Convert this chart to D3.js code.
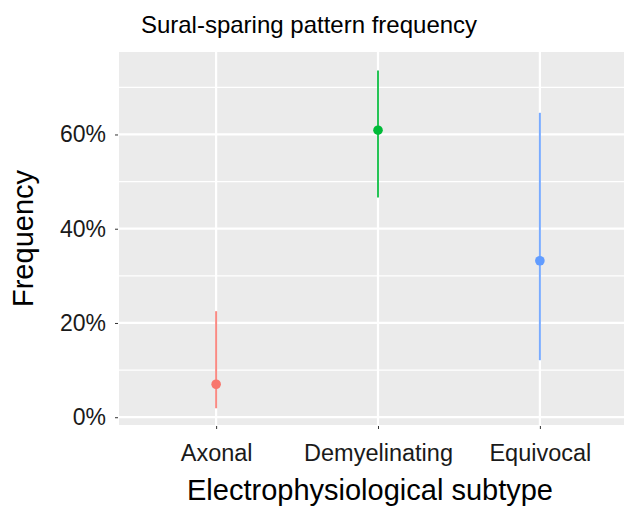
<!DOCTYPE html>
<html><head><meta charset="utf-8">
<script src="https://cdn.jsdelivr.net/npm/d3@7"></script>
<style>body{margin:0;background:#fff}svg{display:block}text{font-family:"Liberation Sans",Arial,Helvetica,sans-serif}</style>
</head><body>
<script>
const categories = ["Axonal", "Demyelinating", "Equivocal"];
const estimate = [0.070, 0.609, 0.332];
const lower = [0.019, 0.466, 0.121];
const upper = [0.225, 0.736, 0.646];
const colors = ["#F8766D", "#00BA38", "#619CFF"];
const yTicks = [0, 0.2, 0.4, 0.6];
const yMinor = [0.1, 0.3, 0.5, 0.7];

const W = 624, H = 512;
const svg = d3.select("body").append("svg").attr("width", W).attr("height", H);
const pL = 119, pR = 637, pT = 52, pB = 425;

const x = d3.scalePoint().domain(categories).range([pL, pR]).padding(0.6);
const y = d3.scaleLinear().domain([-0.0165, 0.775]).range([pB, pT]);

svg.append("rect").attr("x", pL).attr("y", pT).attr("width", pR - pL).attr("height", pB - pT).attr("fill", "#EBEBEB");

const g = svg.append("g");
g.selectAll(".minor").data(yMinor).join("line")
  .attr("x1", pL).attr("x2", pR).attr("y1", d => y(d)).attr("y2", d => y(d))
  .attr("stroke", "#fff").attr("stroke-width", 1.1);
g.selectAll(".major").data(yTicks).join("line")
  .attr("x1", pL).attr("x2", pR).attr("y1", d => y(d)).attr("y2", d => y(d))
  .attr("stroke", "#fff").attr("stroke-width", 2.2);
g.selectAll(".vmajor").data(categories).join("line")
  .attr("x1", d => x(d)).attr("x2", d => x(d)).attr("y1", pT).attr("y2", pB)
  .attr("stroke", "#fff").attr("stroke-width", 2.2);

// error bars
const data = categories.map((c, i) => ({c, est: estimate[i], lo: lower[i], hi: upper[i], col: colors[i]}));
g.selectAll(".ci").data(data).join("line")
  .attr("x1", d => x(d.c)).attr("x2", d => x(d.c))
  .attr("y1", d => y(d.lo)).attr("y2", d => y(d.hi))
  .attr("stroke", d => d.col).attr("stroke-width", 2).attr("stroke-opacity", 0.85);
g.selectAll(".pt").data(data).join("circle")
  .attr("cx", d => x(d.c)).attr("cy", d => y(d.est)).attr("r", 4.8)
  .attr("fill", d => d.col);

// axes
const yAxis = d3.axisLeft(y).tickValues(yTicks).tickFormat(d3.format(".0%")).tickSize(3).tickPadding(9);
const ya = svg.append("g").attr("transform", `translate(${pL - 1},0)`).call(yAxis);
ya.select(".domain").remove();
ya.selectAll("line").attr("stroke", "#333");
ya.selectAll("text").attr("font-size", 23).attr("fill", "#1a1a1a");

const xAxis = d3.axisBottom(x).tickSize(3).tickPadding(15);
const xa = svg.append("g").attr("transform", `translate(0,${pB + 1})`).call(xAxis);
xa.select(".domain").remove();
xa.selectAll("line").attr("stroke", "#333");
xa.selectAll("text").attr("font-size", 23.5).attr("fill", "#1a1a1a");

svg.append("text").attr("x", 309).attr("y", 33).attr("text-anchor", "middle")
  .attr("font-size", 24).attr("fill", "#000").text("Sural-sparing pattern frequency");
svg.append("text").attr("x", 370).attr("y", 500).attr("text-anchor", "middle")
  .attr("font-size", 29).attr("fill", "#000").text("Electrophysiological subtype");
svg.append("text").attr("transform", "translate(33,238.5) rotate(-90)").attr("text-anchor", "middle")
  .attr("font-size", 29).attr("fill", "#000").text("Frequency");
</script>
</body></html>
